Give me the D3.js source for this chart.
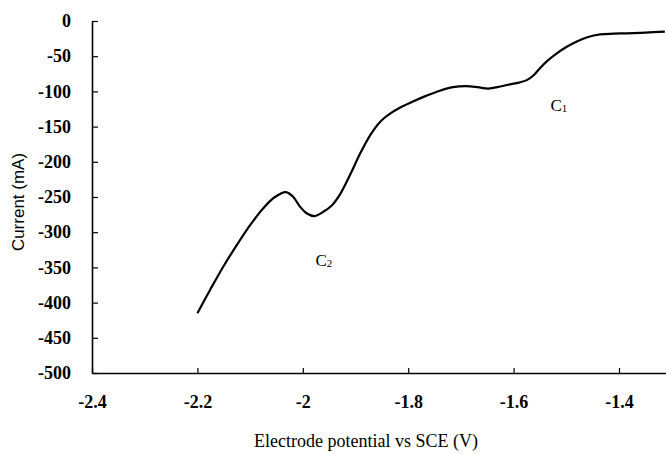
<!DOCTYPE html>
<html>
<head>
<meta charset="utf-8">
<script src="https://cdn.jsdelivr.net/npm/d3@7"></script>
<style>
  html, body { margin: 0; padding: 0; background: #fff; }
  svg { display: block; }
</style>
</head>
<body>
<svg id="chart" width="666" height="454"></svg>
<script>
// Electrode potential (V vs SCE) and measured current (mA)
const potential = [-2.200, -2.176, -2.151, -2.125, -2.100, -2.075, -2.053, -2.032, -2.018, -2.005,
                   -1.993, -1.977, -1.961, -1.945, -1.930, -1.910, -1.891, -1.872, -1.853, -1.835,
                   -1.815, -1.790, -1.765, -1.740, -1.715, -1.690, -1.668, -1.648, -1.625, -1.607,
                   -1.590, -1.575, -1.562, -1.550, -1.535, -1.518, -1.500, -1.480, -1.460, -1.436,
                   -1.410, -1.385, -1.350, -1.313];
const current   = [-415, -382, -349, -318, -290, -266, -250, -243, -250, -264,
                   -273, -277, -271, -262, -247, -218, -188, -162, -143, -132,
                   -123, -114, -106, -99, -94, -92.5, -94, -96, -93, -90,
                   -87.5, -84, -77, -67, -56, -46, -37, -29, -23, -19,
                   -18, -17.5, -16.5, -15];

const xTicks = [-2.4, -2.2, -2.0, -1.8, -1.6, -1.4];
const xTickLabels = ["-2.4", "-2.2", "-2", "-1.8", "-1.6", "-1.4"];
const yTicks = [0, -50, -100, -150, -200, -250, -300, -350, -400, -450, -500];
const yTickLabels = ["0", "-50", "-100", "-150", "-200", "-250", "-300", "-350", "-400", "-450", "-500"];

const peakLabels = [
  { name: "C", sub: "1", v: -1.530, i: -128 },
  { name: "C", sub: "2", v: -1.976, i: -348 }
];

const svg = d3.select("#chart");
const x = d3.scaleLinear().domain([-2.4, -1.3]).range([92, 671.7]);
const y = d3.scaleLinear().domain([-500, 0]).range([373, 21]);

const serif = "'Liberation Serif', 'Times New Roman', serif";

// Axes: ticks point inward, bold numeric labels
const xAxis = d3.axisBottom(x)
  .tickValues(xTicks)
  .tickSizeInner(-5).tickSizeOuter(0)
  .tickPadding(22)
  .tickFormat((d, i) => xTickLabels[i]);
const gx = svg.append("g").attr("transform", `translate(0,${y(-500)})`).call(xAxis);

const yAxis = d3.axisLeft(y)
  .tickValues(yTicks)
  .tickSizeInner(-6).tickSizeOuter(0)
  .tickPadding(21)
  .tickFormat((d, i) => yTickLabels[i]);
const gy = svg.append("g").attr("transform", `translate(${x(-2.4)},0)`).call(yAxis);

[gx, gy].forEach(g => {
  g.attr("font-family", null);
  g.select(".domain").attr("stroke", "#000").attr("stroke-width", 1.6);
  g.selectAll(".tick line").attr("stroke", "#000").attr("stroke-width", 1.2);
  g.selectAll(".tick text")
    .attr("fill", "#000")
    .style("font-family", serif)
    .style("font-weight", "bold")
    .style("font-size", "18px");
});

// Curve
const line = d3.line()
  .x((d, i) => x(potential[i]))
  .y((d, i) => y(current[i]))
  .curve(d3.curveCatmullRom.alpha(0.5));

svg.append("path")
  .datum(current)
  .attr("fill", "none")
  .attr("stroke", "#000")
  .attr("stroke-width", 2.2)
  .attr("stroke-linejoin", "round")
  .attr("d", line);

// Peak labels
peakLabels.forEach(p => {
  const t = svg.append("text")
    .attr("x", x(p.v))
    .attr("y", y(p.i))
    .style("font-family", serif)
    .style("font-size", "17px")
    .attr("fill", "#000");
  t.append("tspan").text(p.name);
  t.append("tspan").attr("dy", 1).style("font-size", "11px").text(p.sub);
});

// Axis titles
svg.append("text")
  .attr("x", 366)
  .attr("y", 447)
  .attr("text-anchor", "middle")
  .style("font-family", serif)
  .style("font-size", "18px")
  .attr("fill", "#000")
  .text("Electrode potential vs SCE (V)");

svg.append("text")
  .attr("transform", "translate(24,202) rotate(-90)")
  .attr("text-anchor", "middle")
  .style("font-family", "'Liberation Sans', Arial, sans-serif")
  .style("font-size", "17px")
  .attr("fill", "#000")
  .text("Current (mA)");
</script>
</body>
</html>
